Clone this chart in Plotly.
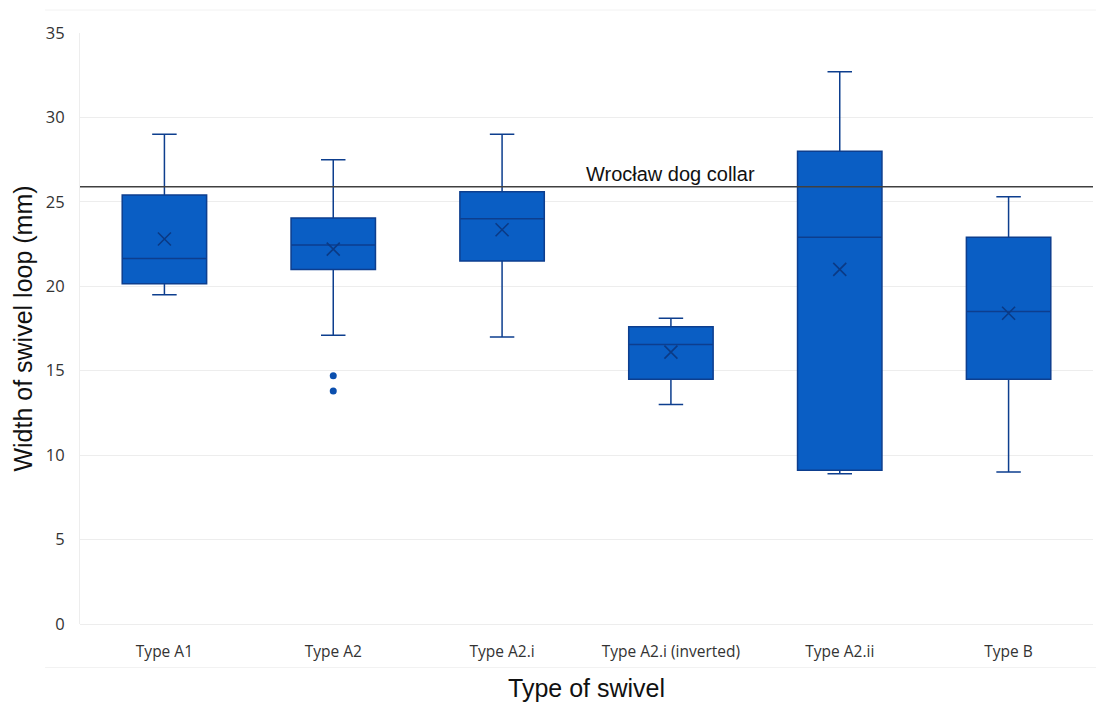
import plotly.graph_objects as go

# Summary statistics of swivel loop width per swivel type (mm)
categories = ["Type A1", "Type A2", "Type A2.i", "Type A2.i (inverted)", "Type A2.ii", "Type B"]
lower_whisker = [19.5, 17.1, 17.0, 13.0, 8.9, 9.0]
q1 = [20.15, 21.0, 21.5, 14.5, 9.1, 14.5]
median = [21.65, 22.45, 24.0, 16.55, 22.9, 18.5]
q3 = [25.4, 24.05, 25.6, 17.6, 28.0, 22.9]
upper_whisker = [29.0, 27.5, 29.0, 18.1, 32.7, 25.3]
mean = [22.8, 22.2, 23.35, 16.1, 21.0, 18.4]

# Individual outliers
outlier_cats = ["Type A2", "Type A2"]
outlier_vals = [14.7, 13.8]

collar_width = 25.9
collar_label = "Wrocław dog collar"

fill = "#0A5EC4"
edge = "#0D3E8E"

fig = go.Figure()

fig.add_trace(go.Box(
    x=categories,
    q1=q1,
    median=median,
    q3=q3,
    lowerfence=lower_whisker,
    upperfence=upper_whisker,
    width=0.5,
    fillcolor=fill,
    line=dict(color=edge, width=1.5),
    whiskerwidth=0.29,
    boxpoints=False,
    showlegend=False,
    hoverinfo="skip",
))

fig.add_trace(go.Scatter(
    x=categories,
    y=mean,
    mode="markers",
    marker=dict(symbol="x-thin-open", size=13, color="#0B3A85",
                line=dict(color="#0B3A85", width=1.6)),
    showlegend=False,
    hoverinfo="skip",
))

fig.add_trace(go.Scatter(
    x=outlier_cats,
    y=outlier_vals,
    mode="markers",
    marker=dict(symbol="circle", size=7, color="#0B4FAE"),
    showlegend=False,
    hoverinfo="skip",
))

# Reference line for the collar width
fig.add_shape(type="line", xref="paper", yref="y", x0=0, x1=1,
              y0=collar_width, y1=collar_width,
              line=dict(color="#404040", width=1.5), layer="above")
fig.add_annotation(x="Type A2.i (inverted)", y=collar_width, xref="x", yref="y",
                   text=collar_label, showarrow=False, yanchor="bottom", yshift=0,
                   font=dict(family="Liberation Sans, Arial", size=20, color="#111111"))

# Faint frame lines of the chart area
for yp in (1.0389, -0.0735):
    fig.add_shape(type="line", xref="paper", yref="paper", x0=-0.0345, x1=1.01,
                  y0=yp, y1=yp, line=dict(color="#F2F2F2", width=1), layer="below")

fig.update_layout(
    width=1096,
    height=702,
    margin=dict(l=80, r=3, t=33, b=77.5),
    paper_bgcolor="white",
    plot_bgcolor="white",
    font=dict(family="Open Sans, Noto Sans, sans-serif", color="#404040", size=15),
    xaxis=dict(
        type="category",
        categoryorder="array",
        categoryarray=categories,
        range=[-0.5, 5.5],
        showgrid=False,
        showline=False,
        ticks="",
        ticklabelstandoff=16,
        tickfont=dict(size=15.5, color="#333333"),
        title=dict(text="Type of swivel", standoff=21,
                   font=dict(family="Liberation Sans, Arial", size=25, color="#111111")),
    ),
    yaxis=dict(
        range=[0, 35],
        dtick=5,
        showgrid=True,
        gridcolor="#EDEDED",
        gridwidth=1,
        zeroline=True,
        zerolinecolor="#EDEDED",
        zerolinewidth=1,
        showline=True,
        linecolor="#EDEDED",
        linewidth=1,
        ticks="",
        ticklabelstandoff=11,
        tickfont=dict(size=16.5, color="#333333"),
        title=dict(text="Width of swivel loop (mm)", standoff=6,
                   font=dict(family="Liberation Sans, Arial", size=25, color="#111111")),
    ),
)

fig.write_html("out.html")
